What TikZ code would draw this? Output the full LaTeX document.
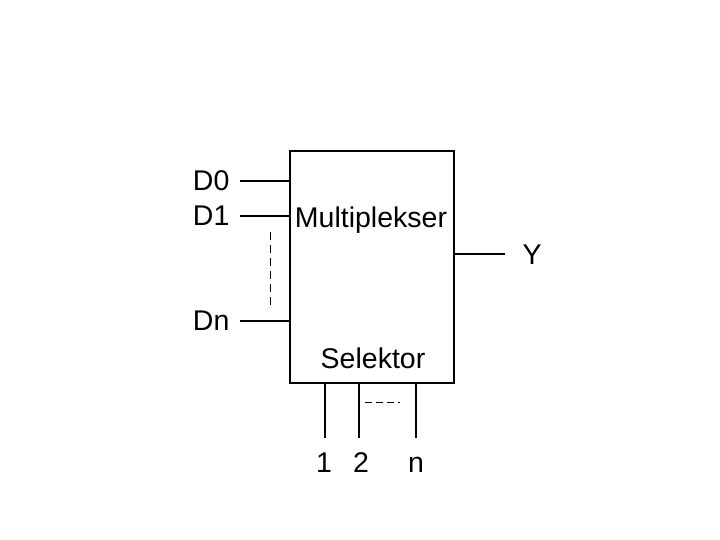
\documentclass[tikz,border=0pt]{standalone}
\usepackage{fontspec}
\setmainfont{Liberation Sans}
\usetikzlibrary{positioning}

\begin{document}
\begin{tikzpicture}[x=1pt,y=-1pt,line width=1.2pt,
    lab/.style={font=\fontsize{28.5}{32}\selectfont,inner sep=0pt},
    gap/.style={line width=0.8pt,dash pattern=on 8pt off 5pt}]
  \useasboundingbox (0,0) rectangle (720,540);
  \node[draw,minimum width=164pt,minimum height=232pt,inner sep=0pt] (mux) at (372,267) {};
  \node[lab,anchor=base] (name) at (371,228) {Multiplekser};
  \node[lab,anchor=base] (sel) at (373,368) {Selektor};
  % data inputs
  \coordinate (d0) at (240,181);
  \coordinate (d1) at (240,216);
  \coordinate (dn) at (240,321);
  \foreach \p/\lab in {d0/D0,d1/D1,dn/Dn} {
    \draw (\p) -- (\p -| mux.west);
    \node[lab,left=10pt of \p] (l\p) {\lab};
  }
  \coordinate (dtop) at (270,232);
  \coordinate (dbot) at (270,306);
  \draw[gap] (dtop) -- (dbot);
  % output
  \coordinate (out) at (505,254);
  \draw (out -| mux.east) -- (out);
  \node[lab] (ly) at (532,255) {Y};
  % select lines
  \coordinate (s1) at (325,438);
  \coordinate (s2) at (359,438);
  \coordinate (sn) at (416,438);
  \draw (s1 |- mux.south) -- (s1);
  \draw (s2 |- mux.south) -- (s2);
  \draw (sn |- mux.south) -- (sn);
  \node[lab,anchor=base] (l1) at (324,472) {1};
  \node[lab,anchor=base] (l2) at (361,472) {2};
  \node[lab,anchor=base] (ln) at (416,472) {n};
  \coordinate (sa) at (365,402);
  \coordinate (sb) at (400,402);
  \draw[gap,dash pattern=on 7pt off 4pt] (sa) -- (sb);
\end{tikzpicture}
\end{document}
